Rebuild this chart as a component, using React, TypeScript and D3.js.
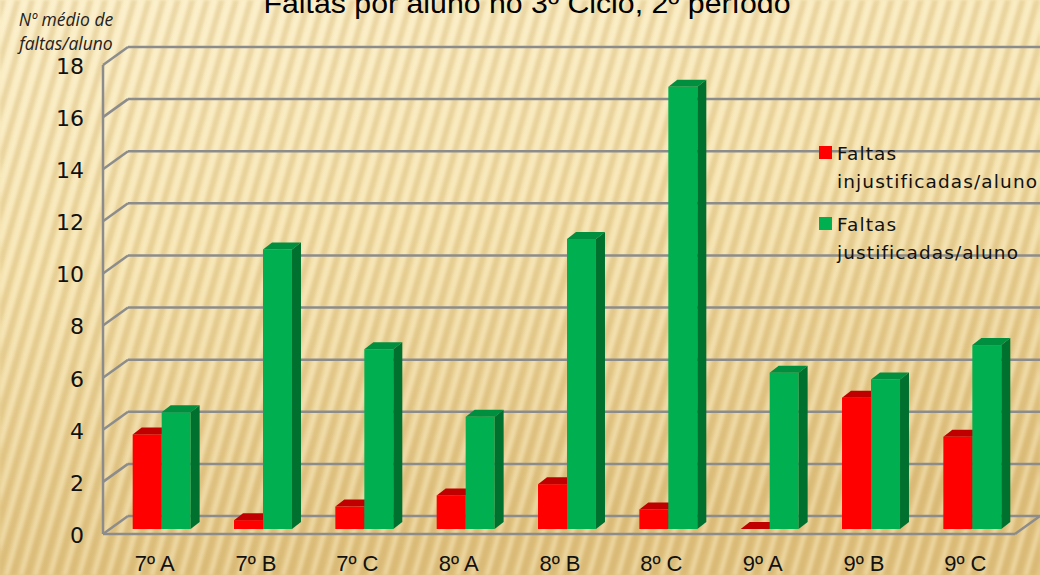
import React, { useRef, useEffect } from 'react';
import * as d3 from 'd3';

const categories = ['7º A', '7º B', '7º C', '8º A', '8º B', '8º C', '9º A', '9º B', '9º C'];
const unjustified = [3.63, 0.34, 0.86, 1.29, 1.72, 0.75, 0, 5.04, 3.54];
const justified = [4.48, 10.73, 6.9, 4.31, 11.13, 16.97, 6.0, 5.74, 7.06];
const yTicks = [0, 2, 4, 6, 8, 10, 12, 14, 16, 18];
const seriesNames = [
  ['Faltas', 'injustificadas/aluno'],
  ['Faltas', 'justificadas/aluno'],
];

const App = () => {
  const chartRef = useRef<SVGSVGElement | null>(null);

  useEffect(() => {
    const width = 1040;
    const height = 575;
    const svg = d3.select(chartRef.current).attr('width', width).attr('height', height);
    svg.selectAll('*').remove();

    // background: warm gradient + slanted stripes
    const defs = svg.append('defs');
    const bg = defs.append('linearGradient').attr('id', 'bg').attr('x1', 0).attr('y1', 0).attr('x2', 0.25).attr('y2', 1);
    bg.append('stop').attr('offset', '0%').attr('stop-color', '#fbefc8');
    bg.append('stop').attr('offset', '45%').attr('stop-color', '#f5e3ae');
    bg.append('stop').attr('offset', '100%').attr('stop-color', '#e2c583');

    const stripes = defs.append('pattern')
      .attr('id', 'stripes')
      .attr('patternUnits', 'userSpaceOnUse')
      .attr('width', 14)
      .attr('height', 40)
      .attr('patternTransform', 'rotate(16)');
    stripes.append('rect').attr('width', 6).attr('height', 40).attr('fill', '#c29a50').attr('opacity', 0.26);
    stripes.append('rect').attr('x', 9).attr('width', 3).attr('height', 40).attr('fill', '#fff6da').attr('opacity', 0.4);

    defs.append('filter').attr('id', 'soft')
      .append('feGaussianBlur').attr('stdDeviation', 1.6);

    svg.append('rect').attr('width', width).attr('height', height).attr('fill', 'url(#bg)');
    svg.append('rect').attr('width', width).attr('height', height).attr('fill', 'url(#stripes)').attr('filter', 'url(#soft)');

    // scales (front plane)
    const x = d3.scaleBand().domain(categories).range([103, 1015]);
    const y = d3.scaleLinear().domain([0, 18]).range([534, 65]);
    const wall = { dx: 25, dy: -18 };
    const shift = { dx: 8, dy: -5 };
    const depth = { dx: 9, dy: -7 };
    const barW = x.bandwidth() * 0.286;
    const gridColor = '#8c8c8c';

    // gridlines on the back wall + left wall links
    const grid = svg.append('g').attr('stroke', gridColor).attr('stroke-width', 2.5).attr('fill', 'none');
    yTicks.forEach(t => {
      grid.append('line')
        .attr('x1', x.range()[0] + wall.dx).attr('y1', y(t) + wall.dy)
        .attr('x2', x.range()[1] + wall.dx).attr('y2', y(t) + wall.dy);
      grid.append('line')
        .attr('x1', x.range()[0]).attr('y1', y(t))
        .attr('x2', x.range()[0] + wall.dx).attr('y2', y(t) + wall.dy);
    });
    grid.append('line')
      .attr('x1', x.range()[0]).attr('y1', y(0))
      .attr('x2', x.range()[0]).attr('y2', y(18));
    grid.append('line')
      .attr('x1', x.range()[0]).attr('y1', y(0))
      .attr('x2', x.range()[1]).attr('y2', y(0));
    grid.append('line')
      .attr('x1', x.range()[1]).attr('y1', y(0))
      .attr('x2', x.range()[1] + wall.dx).attr('y2', y(0) + wall.dy);

    // 3D bars
    const colors = [
      { front: '#ff0000', top: '#c00000', side: '#a00000' },
      { front: '#00b050', top: '#008f3e', side: '#00702f' },
    ];
    const bars = svg.append('g');
    categories.forEach((c, i) => {
      [unjustified[i], justified[i]].forEach((v, s) => {
        const left = (x(c) as number) + x.bandwidth() / 2 + shift.dx - barW + s * barW;
        const yTop = y(v) + shift.dy;
        const yBase = y(0) + shift.dy;
        const col = colors[s];
        bars.append('rect')
          .attr('x', left).attr('y', yTop)
          .attr('width', barW).attr('height', yBase - yTop)
          .attr('fill', col.front);
        bars.append('polygon')
          .attr('points', [
            [left, yTop], [left + barW, yTop],
            [left + barW + depth.dx, yTop + depth.dy], [left + depth.dx, yTop + depth.dy],
          ].map(p => p.join(',')).join(' '))
          .attr('fill', col.top);
        bars.append('polygon')
          .attr('points', [
            [left + barW, yTop], [left + barW + depth.dx, yTop + depth.dy],
            [left + barW + depth.dx, yBase + depth.dy], [left + barW, yBase],
          ].map(p => p.join(',')).join(' '))
          .attr('fill', col.side);
      });
    });

    // y tick labels
    svg.append('g')
      .selectAll('text')
      .data(yTicks)
      .enter().append('text')
      .attr('x', 84)
      .attr('y', d => y(d) + 1)
      .attr('dy', '0.36em')
      .attr('text-anchor', 'end')
      .attr('font-family', 'DejaVu Sans, sans-serif')
      .attr('font-size', 22)
      .attr('fill', '#111')
      .text(d => d);

    // x labels
    svg.append('g')
      .selectAll('text')
      .data(categories)
      .enter().append('text')
      .attr('x', d => (x(d) as number) + x.bandwidth() / 2 + 1)
      .attr('y', 571)
      .attr('text-anchor', 'middle')
      .attr('font-family', 'Liberation Sans, Arial, sans-serif')
      .attr('font-size', 22)
      .attr('fill', '#111')
      .text(d => d);

    // y axis title
    const yTitle = svg.append('text')
      .attr('text-anchor', 'middle')
      .attr('font-family', 'Open Sans, sans-serif')
      .attr('font-style', 'italic')
      .attr('font-size', 17.5)
      .attr('fill', '#222');
    yTitle.append('tspan').attr('x', 66).attr('y', 26).text('Nº médio de');
    yTitle.append('tspan').attr('x', 66).attr('y', 50).text('faltas/aluno');

    // chart title (clipped at the top, as in the slide)
    svg.append('text')
      .attr('x', 527)
      .attr('y', 13)
      .attr('text-anchor', 'middle')
      .attr('font-family', 'Liberation Sans, Arial, sans-serif')
      .attr('font-size', 27)
      .attr('textLength', 527)
      .attr('lengthAdjust', 'spacingAndGlyphs')
      .attr('fill', '#000')
      .text('Faltas por aluno no 3º Ciclo, 2º período');

    // legend
    const legend = svg.append('g').attr('transform', 'translate(819,146)');
    seriesNames.forEach((lines, i) => {
      legend.append('rect')
        .attr('x', 0).attr('y', i * 71)
        .attr('width', 13).attr('height', 13)
        .attr('fill', colors[i].front);
      const t = legend.append('text')
        .attr('font-family', 'DejaVu Sans, sans-serif')
        .attr('font-size', 18.5)
        .attr('letter-spacing', 1.1)
        .attr('fill', '#111');
      lines.forEach((ln, j) => {
        t.append('tspan').attr('x', 18).attr('y', i * 71 + 13.5 + j * 28).text(ln);
      });
    });
  }, []);

  return (
    <div style={{ position: 'absolute', left: 0, top: 0 }}>
      <svg ref={chartRef} style={{ display: 'block' }} />
    </div>
  );
};

export default App;
